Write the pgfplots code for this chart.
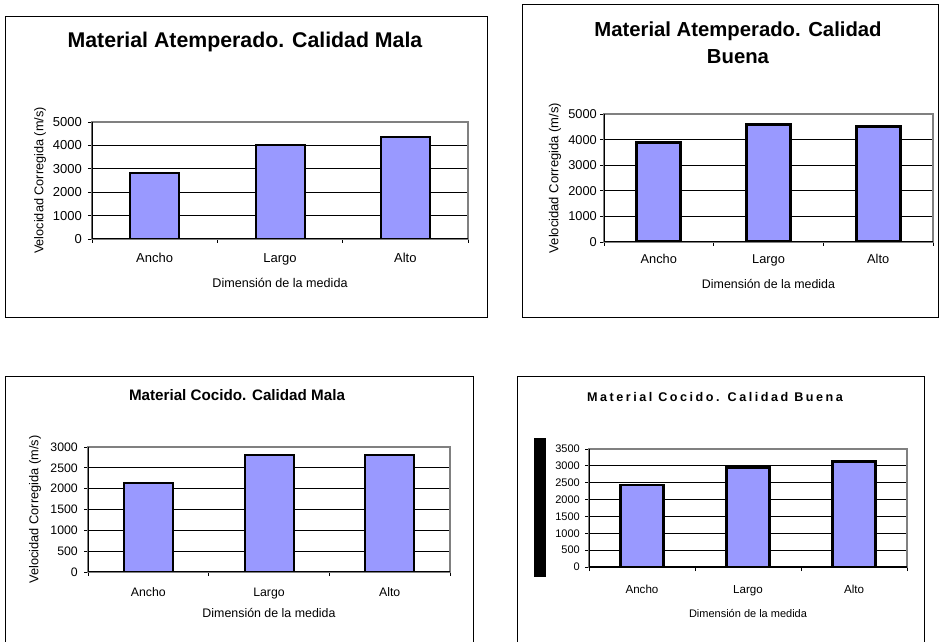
\documentclass[border=0pt]{standalone}
\usepackage{fontspec}
\setmainfont{Liberation Sans}
\usepackage{pgfplots}
\pgfplotsset{compat=1.18}

\definecolor{barfill}{RGB}{153,153,255}
\definecolor{plotframe}{RGB}{128,128,128}

\newcommand{\fsz}[1]{\fontsize{#1}{#1}\selectfont}

\tikzset{axisbl/.style={black, line width=1.2pt}}

% Excel-like bar chart
\pgfplotsset{
  excel/.style={
    scale only axis, anchor=south west,
    ybar, xmin=0.5, xmax=3.5, ymin=0,
    xtick={0.5,1.5,2.5,3.5}, xticklabels={},
    extra x ticks={1,2,3},
    extra x tick labels={Ancho,Largo,Alto},
    extra x tick style={major tick length=0pt},
    tick pos=left, tick align=outside,
    major tick length=4pt,
    every tick/.style={black, line width=0.8pt},
    ymajorgrids, major grid style={black, line width=0.8pt},
    axis line style={plotframe, line width=1.2pt},
    /pgf/number format/assume math mode=true,
    /pgf/number format/1000 sep={},
    scaled y ticks=false,
    xticklabel style={anchor=base, inner sep=0pt},
    yticklabel style={anchor=east, inner sep=0pt},
    xlabel={Dimensión de la medida},
  },
}

\begin{document}
\begin{tikzpicture}[x=1pt,y=1pt]
\path[use as bounding box] (0,0) rectangle (939,642);

% chart frames
\draw[black, line width=1pt] (5,625) rectangle (487,324);
\draw[black, line width=1pt] (522,637) rectangle (938.5,324);
\draw[black, line width=1pt] (5,-5) -- (5,265) -- (473,265) -- (473,-5);
\draw[black, line width=1pt] (517,-5) -- (517,265) -- (924,265) -- (924,-5);

% titles
\node[font=\bfseries\fsz{21.3}] at (245,600) {Material Atemperado. Calidad Mala};
\node[font=\bfseries\fsz{20.3}, align=center] at (738,599)
  {Material Atemperado. Calidad\\[7pt]Buena};
\node[font=\bfseries\fsz{15.2}] at (237,247) {Material Cocido. Calidad Mala};
\node[font={\addfontfeature{LetterSpace=20}\bfseries\fsz{12.6}}] at (715,245)
  {Material Cocido. Calidad Buena};

% black block in place of the y label of the last chart
\fill[black] (534,204) rectangle (546,65);

% Material Atemperado, Calidad Mala
\begin{axis}[excel, at={(92pt,403pt)}, width=376pt, height=117pt,
  ymax=5000, ytick={0,1000,2000,3000,4000,5000}, bar width=49pt,
  tick label style={font=\fsz{13}},
  xticklabel style={yshift=-24pt}, yticklabel style={xshift=-6pt},
  ylabel={Velocidad Corregida (m/s)},
  xlabel style={at={(axis description cs:0.5,-0.376)}, anchor=center, font=\fsz{12.6}},
  ylabel style={at={(axis description cs:-0.138,0.5)}, anchor=center, font=\fsz{12.7}}]
\addplot[fill=barfill, draw=black, line width=2pt] coordinates {(1,2820) (2,4000) (3,4350)};
\draw[axisbl] (rel axis cs:0,1) -- (rel axis cs:0,0) -- (rel axis cs:1,0);
\end{axis}

% Material Atemperado, Calidad Buena
\begin{axis}[excel, at={(604pt,400pt)}, width=329pt, height=128pt,
  ymax=5000, ytick={0,1000,2000,3000,4000,5000}, bar width=44pt,
  tick label style={font=\fsz{12.8}},
  xticklabel style={yshift=-22pt}, yticklabel style={xshift=-3pt},
  ylabel={Velocidad Corregida (m/s)},
  xlabel style={at={(axis description cs:0.5,-0.328)}, anchor=center, font=\fsz{12.4}},
  ylabel style={at={(axis description cs:-0.149,0.5)}, anchor=center, font=\fsz{13}}]
\addplot[fill=barfill, draw=black, line width=3pt] coordinates {(1,3900) (2,4600) (3,4500)};
\draw[axisbl] (rel axis cs:0,1) -- (rel axis cs:0,0) -- (rel axis cs:1,0);
\end{axis}

% Material Cocido, Calidad Mala
\begin{axis}[excel, at={(88pt,70pt)}, width=362pt, height=125pt,
  ymax=3000, ytick={0,500,1000,1500,2000,2500,3000}, bar width=49pt,
  tick label style={font=\fsz{12.3}},
  xticklabel style={yshift=-25pt}, yticklabel style={xshift=-6pt},
  ylabel={Velocidad Corregida (m/s)},
  xlabel style={at={(axis description cs:0.5,-0.328)}, anchor=center, font=\fsz{12.4}},
  ylabel style={at={(axis description cs:-0.146,0.5)}, anchor=center, font=\fsz{12.8}}]
\addplot[fill=barfill, draw=black, line width=2pt] coordinates {(1,2130) (2,2800) (3,2800)};
\draw[axisbl] (rel axis cs:0,1) -- (rel axis cs:0,0) -- (rel axis cs:1,0);
\end{axis}

% Material Cocido, Calidad Buena
\begin{axis}[excel, at={(589pt,75pt)}, width=318pt, height=118pt,
  ymax=3500, ytick={0,500,1000,1500,2000,2500,3000,3500}, bar width=43pt,
  tick label style={font=\fsz{11}},
  xticklabel style={yshift=-26pt, font=\fsz{11.6}}, yticklabel style={xshift=-5pt},
  xlabel style={at={(axis description cs:0.5,-0.39)}, anchor=center, font=\fsz{11}}]
\addplot[fill=barfill, draw=black, line width=2.5pt] coordinates {(1,2430) (2,2950) (3,3130)};
\draw[axisbl] (rel axis cs:0,1) -- (rel axis cs:0,0) -- (rel axis cs:1,0);
\end{axis}
\end{tikzpicture}
\end{document}
